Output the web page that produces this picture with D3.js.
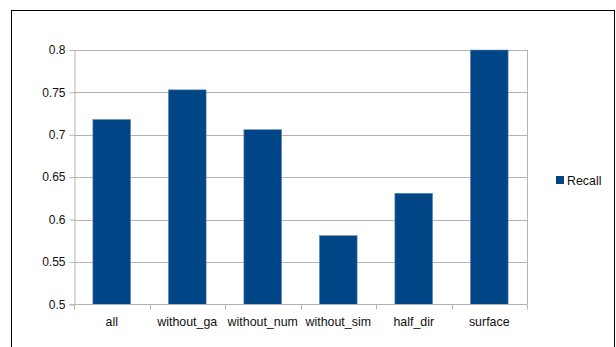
<!DOCTYPE html>
<html>
<head>
<meta charset="utf-8">
<script src="https://cdn.jsdelivr.net/npm/d3@7"></script>
<style>
  html, body { margin: 0; padding: 0; background: #fff; }
  svg { display: block; }
  text { font-family: "Liberation Sans", Arial, sans-serif; fill: #111; }
</style>
</head>
<body>
<script>
// Recall per configuration
const categories = ["all", "without_ga", "without_num", "without_sim", "half_dir", "surface"];
const recall = [0.718, 0.753, 0.706, 0.581, 0.631, 0.8];
const yTicks = [0.5, 0.55, 0.6, 0.65, 0.7, 0.75, 0.8];
const seriesName = "Recall";

const W = 616, H = 347;
const plot = { left: 74, right: 527, top: 50, bottom: 304.3 };
const barColor = "#004586";
const gridColor = "#b3b3b3";

const svg = d3.select("body").append("svg").attr("width", W).attr("height", H);

// frame around the whole chart
svg.append("rect")
  .attr("x", 11.5).attr("y", 10.5)
  .attr("width", 603).attr("height", 350)
  .attr("fill", "#fff").attr("stroke", "#000").attr("stroke-width", 1);

const x = d3.scaleBand().domain(categories).range([plot.left, plot.right]).paddingInner(0.5).paddingOuter(0.25);
const y = d3.scaleLinear().domain([0.5, 0.8]).range([plot.bottom, plot.top]);

// horizontal gridlines
svg.append("g").selectAll("line").data(yTicks).join("line")
  .attr("x1", plot.left).attr("x2", plot.right)
  .attr("y1", d => Math.round(y(d)) + 0.5).attr("y2", d => Math.round(y(d)) + 0.5)
  .attr("stroke", gridColor).attr("stroke-width", 1);

// right edge of plot area
svg.append("line")
  .attr("x1", plot.right + 0.5).attr("x2", plot.right + 0.5)
  .attr("y1", plot.top).attr("y2", plot.bottom)
  .attr("stroke", gridColor);

// bars
svg.append("g").selectAll("rect").data(categories).join("rect")
  .attr("x", d => x(d))
  .attr("width", x.bandwidth())
  .attr("y", (d, i) => y(recall[i]))
  .attr("height", (d, i) => y(0.5) - y(recall[i]))
  .attr("fill", barColor)
  .attr("stroke", "#6d8fb5").attr("stroke-width", 0.6);

// y axis
const yAxis = d3.axisLeft(y).tickValues(yTicks).tickSize(5).tickPadding(4)
  .tickFormat(d => d3.format("")(+d.toFixed(2)));
const gy = svg.append("g").attr("transform", `translate(${plot.left + 0.5},0)`).call(yAxis);
gy.select(".domain").attr("stroke", gridColor);
gy.selectAll(".tick line").attr("stroke", gridColor);
gy.selectAll(".tick text").attr("font-size", "12px").attr("fill", "#111")
  .attr("font-family", "Liberation Sans, Arial, sans-serif");

// x axis with ticks on band boundaries
const gx = svg.append("g").attr("transform", `translate(0,${Math.round(plot.bottom) + 0.5})`);
gx.append("line").attr("x1", plot.left).attr("x2", plot.right)
  .attr("stroke", gridColor);
const step = (plot.right - plot.left) / categories.length;
gx.selectAll("line.tk").data(d3.range(categories.length + 1)).join("line")
  .attr("class", "tk")
  .attr("x1", i => Math.round(plot.left + i * step) + 0.5)
  .attr("x2", i => Math.round(plot.left + i * step) + 0.5)
  .attr("y1", 0).attr("y2", 5)
  .attr("stroke", gridColor);
gx.selectAll("text").data(categories).join("text")
  .attr("x", d => x(d) + x.bandwidth() / 2)
  .attr("y", 21)
  .attr("text-anchor", "middle")
  .attr("font-size", "12.4px")
  .text(d => d);

// legend
const lg = svg.append("g").attr("transform", "translate(556,176)");
lg.append("rect").attr("width", 8).attr("height", 8).attr("fill", barColor);
lg.append("text").attr("x", 11).attr("y", 8.5).attr("font-size", "12.4px").text(seriesName);
</script>
</body>
</html>
